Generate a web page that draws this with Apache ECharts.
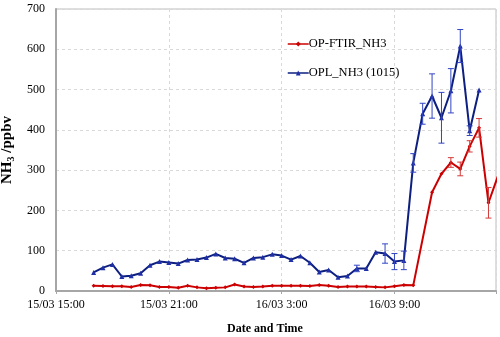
<!DOCTYPE html>
<html>
<head>
<meta charset="utf-8">
<script src="https://cdn.jsdelivr.net/npm/echarts@6/dist/echarts.min.js"></script>
<style>
html, body { margin: 0; padding: 0; background: #fff; }
#chart { width: 500px; height: 337px; }
</style>
</head>
<body>
<div id="chart"></div>
<script>
// sample times, every 30 min
var times = [
    '15/03 17:00', '15/03 17:30', '15/03 18:00', '15/03 18:30', '15/03 19:00', '15/03 19:30',
    '15/03 20:00', '15/03 20:30', '15/03 21:00', '15/03 21:30', '15/03 22:00', '15/03 22:30',
    '15/03 23:00', '15/03 23:30', '16/03 0:00', '16/03 0:30', '16/03 1:00', '16/03 1:30',
    '16/03 2:00', '16/03 2:30', '16/03 3:00', '16/03 3:30', '16/03 4:00', '16/03 4:30',
    '16/03 5:00', '16/03 5:30', '16/03 6:00', '16/03 6:30', '16/03 7:00', '16/03 7:30',
    '16/03 8:00', '16/03 8:30', '16/03 9:00', '16/03 9:30', '16/03 10:00', '16/03 10:30',
    '16/03 11:00', '16/03 11:30', '16/03 12:00', '16/03 12:30', '16/03 13:00', '16/03 13:30',
    '16/03 14:00', '16/03 14:30'
];
var ftirValues = [
    13, 12.5, 12, 12, 10, 15, 14, 10, 10, 8, 13, 9,
    7, 8, 9, 16, 11, 10, 11, 13, 13, 13, 13, 12.5,
    15, 13, 10, 11, 11, 11, 10, 9, 12, 15, 14, null,
    245, 291, 319, 303, 359, 405, 219, 285
];
var ftirErr = [
    null, null, null, null, null, null, null, null, null, null, null, null,
    null, null, null, null, null, null, null, null, null, null, null, null,
    null, null, null, null, null, null, null, null, null, null, null, null,
    null, null, 12, 17, 14, 23, 38, null
];
var oplValues = [
    46, 58, 66, 36, 38, 44, 64, 73, 71, 68, 77, 78,
    83, 92, 82, 80, 70, 82, 84, 91, 88, 78, 87, 70,
    47, 52, 34, 37, 56, 56, 96, 93, 73, 76, 318, 440,
    484, 430, 497, 608, 398, 499, null, null
];
var oplErr = [
    null, null, null, null, null, null, null, null, null, null, null, null,
    null, null, null, null, null, null, null, null, null, null, null, null,
    null, null, null, null, 8, null, null, 24, 20, 23, 23, 26,
    55, 63, 55, 41, 12, null, null, null
];
var xTickLabels = ['15/03 15:00', '15/03 21:00', '16/03 3:00', '16/03 9:00'];
var yTicks = [0, 100, 200, 300, 400, 500, 600, 700];

// hours since 15/03 15:00
function toHours(s) {
    var p = s.split(' ');
    var day = parseInt(p[0].split('/')[0], 10);
    var hm = p[1].split(':');
    return (day - 15) * 24 + parseInt(hm[0], 10) + parseInt(hm[1], 10) / 60 - 15;
}

function lineData(vals) {
    var out = [];
    for (var i = 0; i < times.length; i++) {
        if (vals[i] != null) out.push([toHours(times[i]), vals[i]]);
    }
    return out;
}

function errData(vals, errs) {
    var out = [];
    for (var i = 0; i < times.length; i++) {
        if (vals[i] != null && errs[i] != null) {
            out.push([toHours(times[i]), vals[i] - errs[i], vals[i] + errs[i]]);
        }
    }
    return out;
}

function errRender(color) {
    return function (params, api) {
        var lo = api.coord([api.value(0), api.value(1)]);
        var hi = api.coord([api.value(0), api.value(2)]);
        var w = 3;
        var st = { stroke: color, lineWidth: 1 };
        return {
            type: 'group',
            children: [
                { type: 'line', shape: { x1: lo[0], y1: lo[1], x2: hi[0], y2: hi[1] }, style: st },
                { type: 'line', shape: { x1: lo[0] - w, y1: lo[1], x2: lo[0] + w, y2: lo[1] }, style: st },
                { type: 'line', shape: { x1: hi[0] - w, y1: hi[1], x2: hi[0] + w, y2: hi[1] }, style: st }
            ]
        };
    };
}

var chart = echarts.init(document.getElementById('chart'));
var serif = 'Liberation Serif';

var option = {
    animation: false,
    backgroundColor: '#fff',
    textStyle: { fontFamily: serif },
    grid: {
        left: 56, right: 4, top: 9, bottom: 46,
        outerBoundsMode: 'none',
        containLabel: false,
        show: true, borderColor: '#bdbdbd', borderWidth: 1
    },
    legend: {
        orient: 'vertical',
        left: 282, top: 31,
        itemWidth: 21, itemHeight: 6, itemGap: 13,
        lineStyle: { width: 1.5 },
        textStyle: { fontFamily: serif, fontSize: 12.5, color: '#000', padding: [0, 0, 0, -5], lineHeight: 16 },
        data: ['OP-FTIR_NH3', 'OPL_NH3 (1015)']
    },
    xAxis: {
        type: 'value',
        min: 0, max: 23.4, interval: 6,
        name: 'Date and Time',
        nameLocation: 'middle',
        nameGap: 32,
        nameTextStyle: { fontFamily: serif, fontWeight: 'bold', fontSize: 12, color: '#000', padding: [0, 22, 0, 0] },
        axisLine: { onZero: false, lineStyle: { color: '#a6a6a6', width: 2 } },
        axisTick: { show: true, length: 3, lineStyle: { color: '#a6a6a6' } },
        axisLabel: {
            fontFamily: serif, fontSize: 12, color: '#000', margin: 8,
            formatter: function (v) {
                var k = v / 6;
                return Math.abs(k - Math.round(k)) < 1e-6 ? (xTickLabels[Math.round(k)] || '') : '';
            }
        },
        splitLine: { show: true, lineStyle: { color: '#d9d9d9', type: [3, 3] } }
    },
    yAxis: {
        type: 'value',
        min: yTicks[0], max: yTicks[yTicks.length - 1], interval: 100,
        name: '{a|NH}{b|3}{a| /ppbv}',
        nameLocation: 'middle',
        nameGap: 39,
        nameTextStyle: {
            rich: {
                a: { fontFamily: serif, fontWeight: 'bold', fontSize: 15, color: '#000', lineHeight: 18 },
                b: { fontFamily: serif, fontWeight: 'bold', fontSize: 10, color: '#000', lineHeight: 9, verticalAlign: 'bottom' }
            }
        },
        axisLine: { show: true, lineStyle: { color: '#a6a6a6', width: 2 } },
        axisTick: { show: false },
        axisLabel: { fontFamily: serif, fontSize: 12, color: '#000', margin: 11 },
        splitLine: { show: true, lineStyle: { color: '#d9d9d9', type: [3, 3] } }
    },
    series: [
        {
            name: 'OP-FTIR_NH3',
            type: 'line',
            data: lineData(ftirValues),
            symbol: 'diamond',
            symbolSize: 4,
            color: '#cc0000',
            lineStyle: { color: '#cc0000', width: 2 },
            itemStyle: { color: '#cc0000' },
            z: 3
        },
        {
            name: 'OPL_NH3 (1015)',
            type: 'line',
            data: lineData(oplValues),
            symbol: 'triangle',
            symbolSize: 5,
            color: '#0d1f80',
            lineStyle: { color: '#0d1f80', width: 2 },
            itemStyle: { color: '#1f2fa6' },
            z: 3
        },
        {
            name: 'ftirErr',
            type: 'custom',
            data: errData(ftirValues, ftirErr),
            renderItem: errRender('#d33a3a'),
            encode: { x: 0, y: [1, 2] },
            clip: true,
            z: 4
        },
        {
            name: 'oplErr',
            type: 'custom',
            data: errData(oplValues, oplErr),
            renderItem: errRender('#3245c2'),
            encode: { x: 0, y: [1, 2] },
            clip: true,
            z: 4
        }
    ]
};

chart.setOption(option);
</script>
</body>
</html>
